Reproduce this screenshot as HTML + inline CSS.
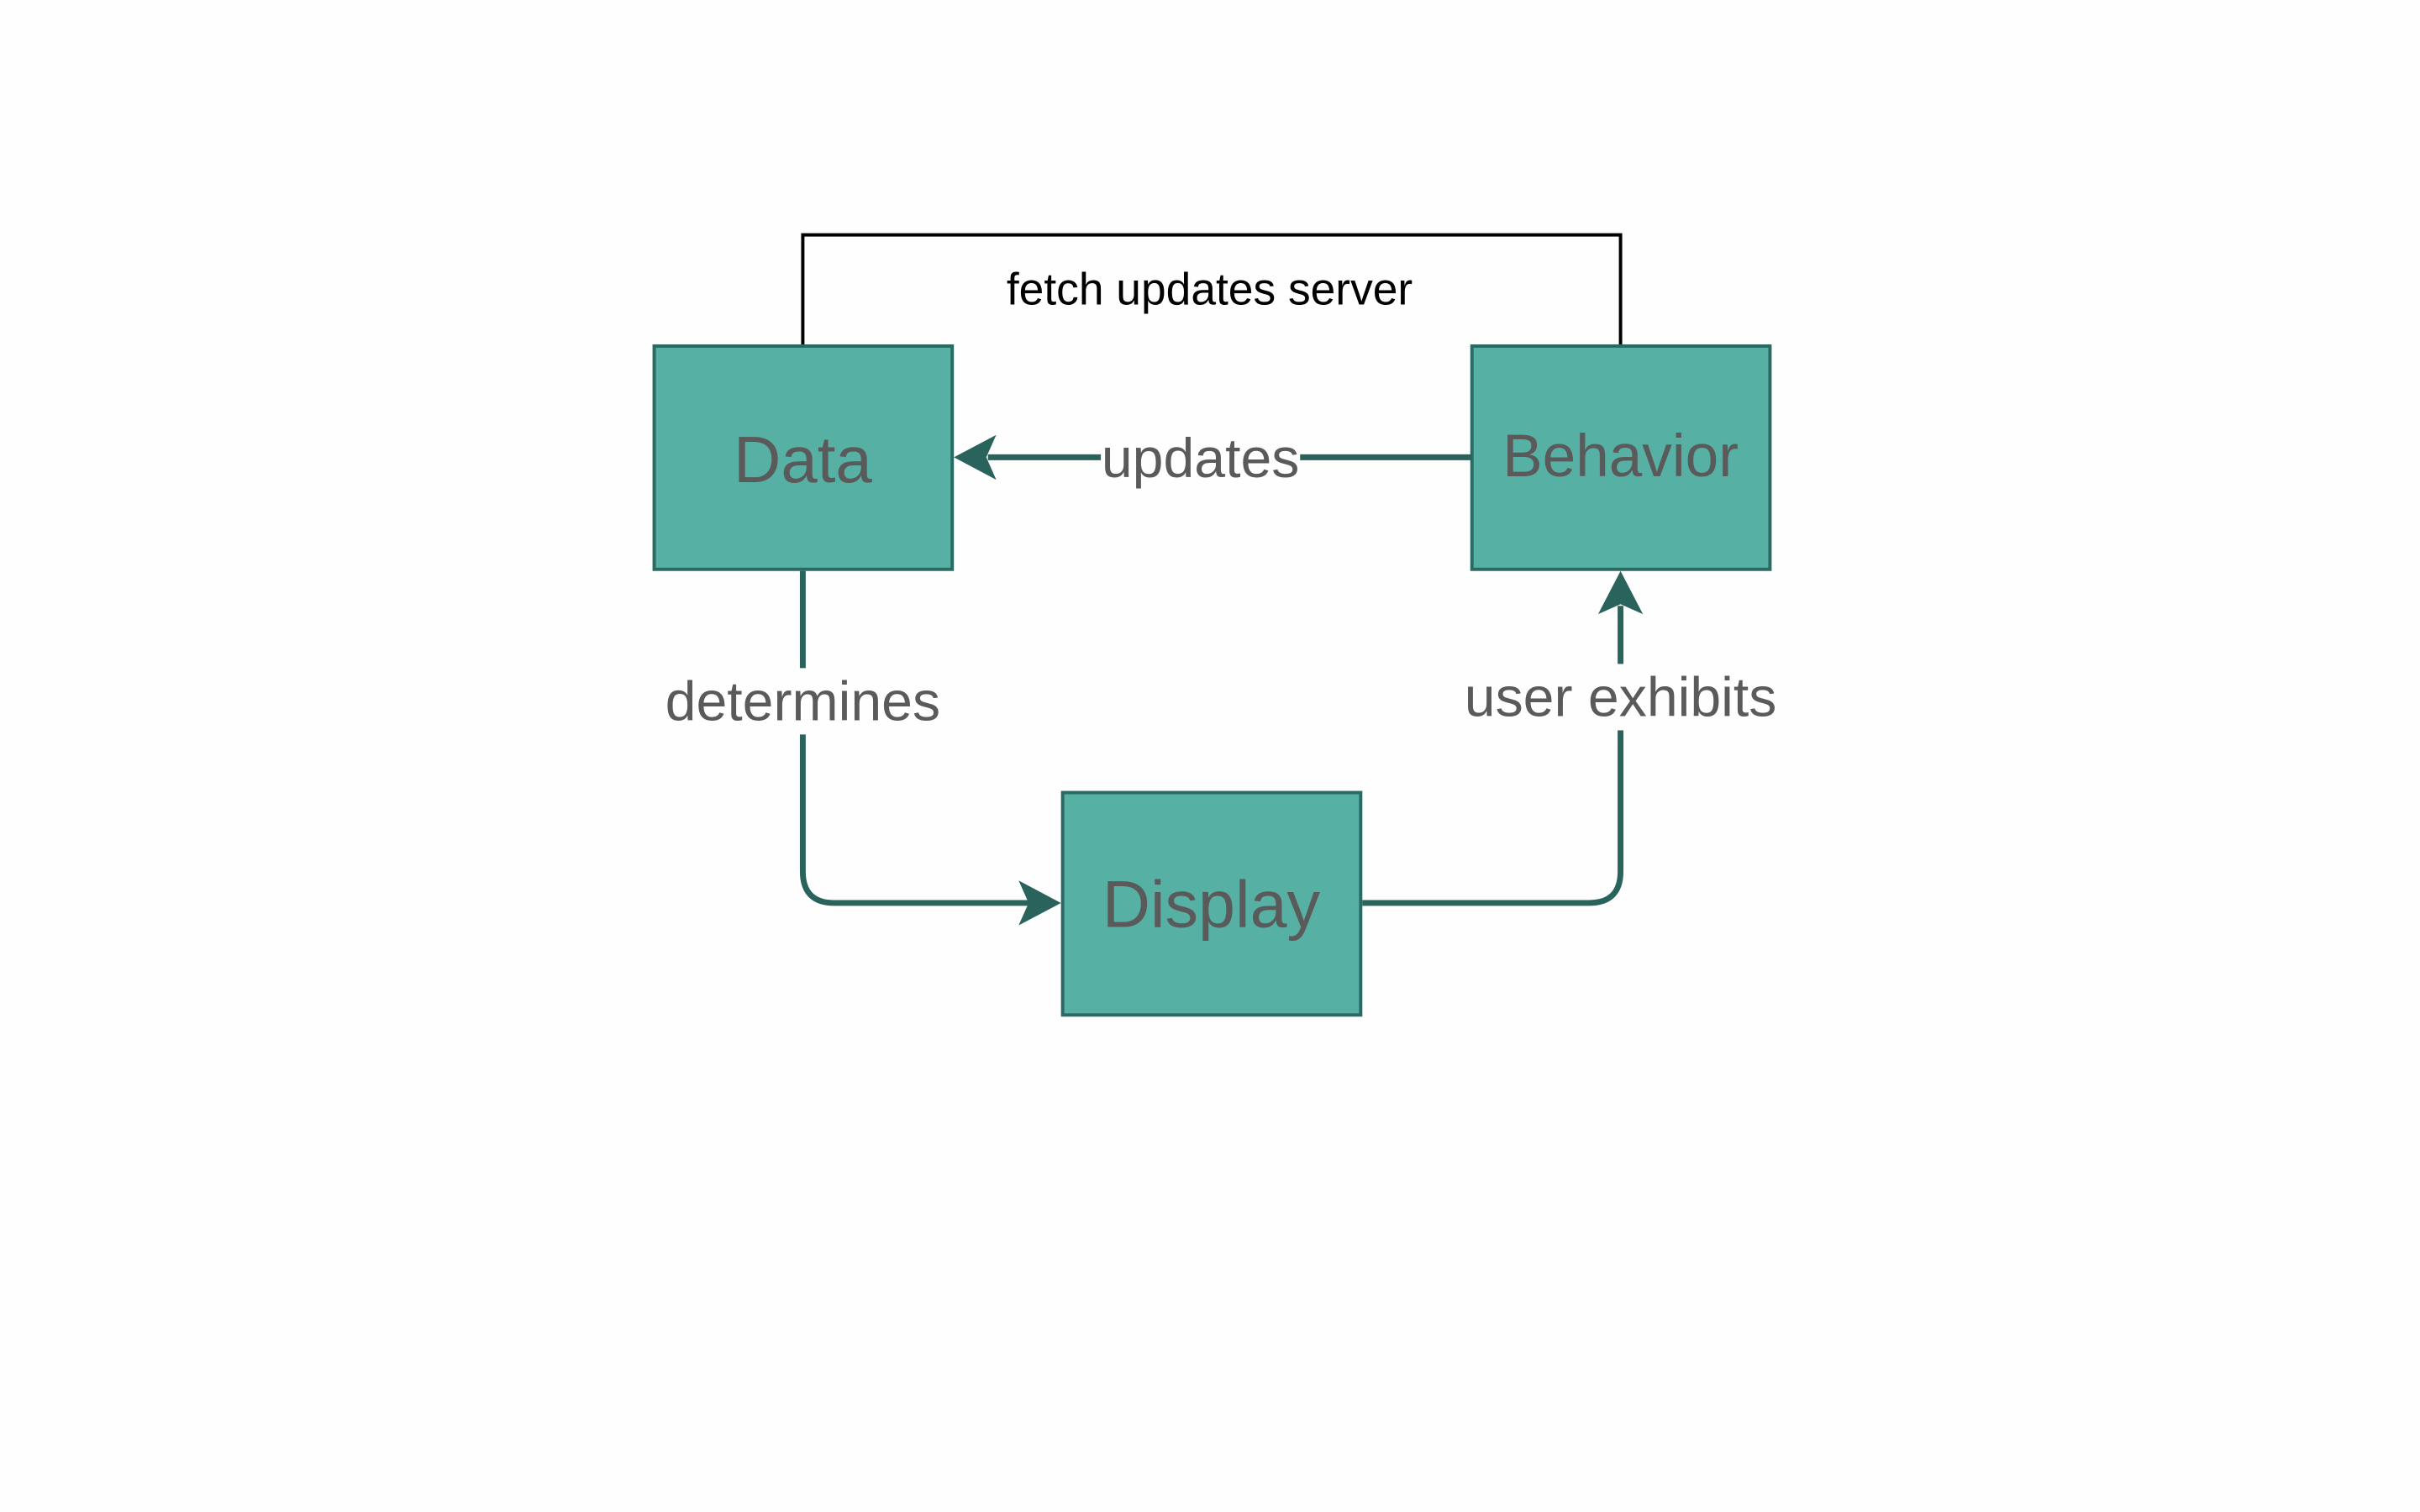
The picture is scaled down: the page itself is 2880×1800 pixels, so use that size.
<!DOCTYPE html>
<html><head><meta charset="utf-8"><style>
html,body{margin:0;padding:0;background:#fff;}
svg{display:block;}
text{font-family:"Liberation Sans",Arial,sans-serif;}
</style></head><body>
<svg width="2880" height="1800" viewBox="0 0 2880 1800" xmlns="http://www.w3.org/2000/svg">
<rect width="2880" height="1800" fill="#fefefe"/>
<g transform="scale(0.988)">
<polyline points="967,416 967,283 1952,283 1952,416" fill="none" stroke="#000" stroke-width="4"/>
<text x="1457" y="367" font-size="54" text-anchor="middle" fill="#000">fetch updates server</text>
<rect x="788" y="417" width="359" height="269" fill="#56b0a4" stroke="#2b6a62" stroke-width="4"/>
<rect x="1773" y="417" width="359" height="269" fill="#56b0a4" stroke="#2b6a62" stroke-width="4"/>
<rect x="1280" y="955" width="359" height="268" fill="#56b0a4" stroke="#2b6a62" stroke-width="4"/>
<text x="967" y="581" font-size="79" text-anchor="middle" fill="#5a5a5a">Data</text>
<text x="1952" y="574" font-size="72" text-anchor="middle" fill="#5a5a5a">Behavior</text>
<text x="1459" y="1117" font-size="80" text-anchor="middle" fill="#5a5a5a">Display</text>
<line x1="1773" y1="551" x2="1190" y2="551" stroke="#2a625c" stroke-width="7"/>
<polygon points="1149,551 1200,524 1188,551 1200,578" fill="#2a625c"/>
<rect x="1326" y="515" width="240" height="70" fill="#fefefe"/>
<text x="1446" y="575" font-size="67" text-anchor="middle" fill="#5a5a5a">updates</text>
<path d="M967,688 L967,1050 Q967,1088 1005,1088 L1240,1088" fill="none" stroke="#2a625c" stroke-width="7"/>
<polygon points="1278,1088 1227,1061 1239,1088 1227,1115" fill="#2a625c"/>
<rect x="795" y="805" width="345" height="80" fill="#fefefe"/>
<text x="967" y="868" font-size="67" text-anchor="middle" fill="#5a5a5a">determines</text>
<path d="M1641,1088 L1914,1088 Q1952,1088 1952,1050 L1952,730" fill="none" stroke="#2a625c" stroke-width="7"/>
<polygon points="1952,688 1925,740 1952,728 1979,740" fill="#2a625c"/>
<rect x="1760" y="800" width="385" height="80" fill="#fefefe"/>
<text x="1952" y="863" font-size="67" text-anchor="middle" fill="#5a5a5a">user exhibits</text>
</g>
</svg>
</body></html>
